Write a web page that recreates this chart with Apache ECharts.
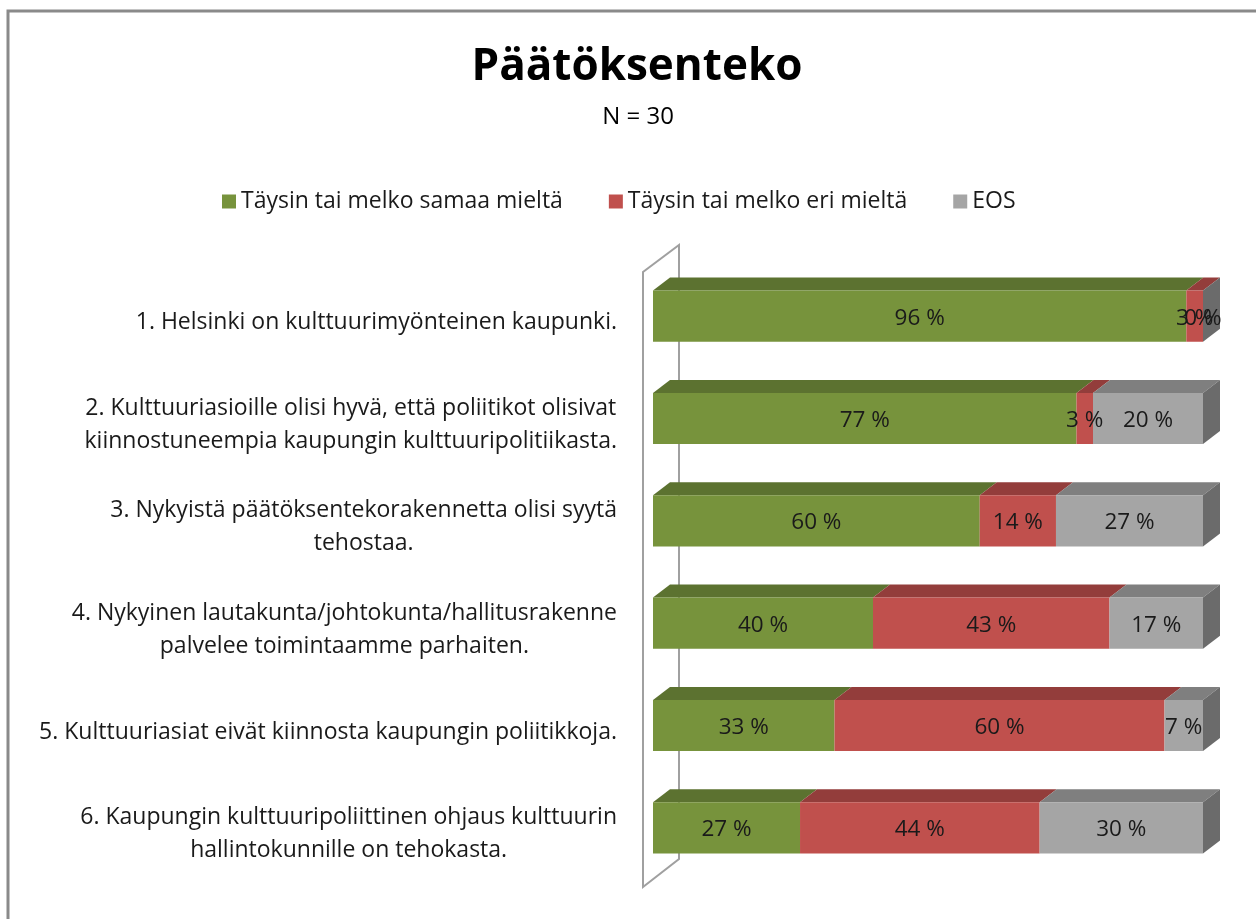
<!DOCTYPE html>
<html>
<head>
<meta charset="utf-8">
<style>
  html, body { margin: 0; padding: 0; background: #fff; }
  #chart { width: 1256px; height: 919px; }
</style>
<script src="https://cdn.jsdelivr.net/npm/echarts@6/dist/echarts.min.js"></script>
</head>
<body>
<div id="chart"></div>
<script>
// statements, top to bottom
const categories = [
  "1. Helsinki on kulttuurimyönteinen kaupunki.",
  "2. Kulttuuriasioille olisi hyvä, että poliitikot olisivat\nkiinnostuneempia kaupungin kulttuuripolitiikasta.",
  "3. Nykyistä päätöksentekorakennetta olisi syytä\ntehostaa.",
  "4. Nykyinen lautakunta/johtokunta/hallitusrakenne\npalvelee toimintaamme parhaiten.",
  "5. Kulttuuriasiat eivät kiinnosta kaupungin poliitikkoja.",
  "6. Kaupungin kulttuuripoliittinen ohjaus kulttuurin\nhallintokunnille on tehokasta."
];
const seriesNames = ["Täysin tai melko samaa mieltä", "Täysin tai melko eri mieltä", "EOS"];
const agree = [96, 77, 60, 40, 33, 27];
const disagree = [3, 3, 14, 43, 60, 44];
const eos = [0, 20, 27, 17, 7, 30];

const FONT = "'Open Sans', Lato, sans-serif";
const colors = [
  { front: "#77933c", top: "#5c7230", side: "#4f6329" },
  { front: "#c0504d", top: "#933d3b", side: "#7e3432" },
  { front: "#a5a5a5", top: "#7f7f7f", side: "#6b6b6b" }
];
const DX = 17, DY = 13;
const gridLeft = 653, gridRight = 53, gridTop = 265, gridHeight = 614;

const values = [agree, disagree, eos];

// 100 % stacked, like Excel: each row is scaled to its own total
function segments(s) {
  return categories.map((c, i) => {
    const total = agree[i] + disagree[i] + eos[i];
    let before = 0;
    for (let k = 0; k < s; k++) before += values[k][i];
    const start = before / total * 100;
    const end = (before + values[s][i]) / total * 100;
    return [start, end, i, values[s][i]];
  });
}

function renderBar(params, api) {
  const s = params.seriesIndex;
  const p0 = api.coord([api.value(0), api.value(2)]);
  const p1 = api.coord([api.value(1), api.value(2)]);
  const h = api.size([0, 1])[1] * 0.5;
  const x0 = p0[0], x1 = p1[0];
  const yTop = p0[1] - h / 2;
  const c = colors[s];
  const children = [
    {
      type: "polygon",
      shape: { points: [[x0, yTop], [x0 + DX, yTop - DY], [x1 + DX, yTop - DY], [x1, yTop]] },
      style: { fill: c.top }
    },
    {
      type: "rect",
      shape: { x: x0, y: yTop, width: x1 - x0, height: h },
      style: { fill: c.front }
    }
  ];
  if (s === 2) {
    children.push({
      type: "polygon",
      shape: { points: [[x1, yTop], [x1 + DX, yTop - DY], [x1 + DX, yTop + h - DY], [x1, yTop + h]] },
      style: { fill: c.side }
    });
  }
  children.push({
    type: "text",
    z2: 50,
    style: {
      text: api.value(3) + " %",
      x: (x0 + x1) / 2,
      y: p0[1] + 2,
      align: "center",
      verticalAlign: "middle",
      font: "22.5px " + FONT,
      fill: "#1a1a1a"
    }
  });
  return { type: "group", children: children };
}

const chart = echarts.init(document.getElementById("chart"));

chart.setOption({
  animation: false,
  backgroundColor: "#fff",
  textStyle: { fontFamily: FONT },
  color: colors.map(c => c.front),
  graphic: [
    {
      type: "polyline",
      silent: true,
      shape: { points: [[8, 919], [8, 11], [1256, 11]] },
      style: { stroke: "#8a8a8a", lineWidth: 3, fill: null }
    },
    {
      type: "text",
      style: {
        text: "Päätöksenteko", x: 637, y: 67, align: "center", verticalAlign: "middle",
        font: "bold 44px " + FONT, fill: "#000"
      }
    },
    {
      type: "text",
      style: {
        text: "N = 30", x: 638, y: 117, align: "center", verticalAlign: "middle",
        font: "24px " + FONT, fill: "#000"
      }
    },
    {
      type: "polygon",
      silent: true,
      z: -1,
      shape: {
        points: [
          [gridLeft - 10, gridTop + gridHeight + 8],
          [gridLeft - 10, gridTop + 7],
          [gridLeft + 26, gridTop - 20],
          [gridLeft + 26, gridTop + gridHeight - 20]
        ]
      },
      style: { stroke: "#a0a0a0", lineWidth: 2, fill: "#fff" }
    }
  ],
  legend: {
    data: seriesNames,
    left: 217,
    top: 185,
    icon: "rect",
    itemWidth: 14,
    itemHeight: 14,
    itemGap: 46,
    textStyle: { fontSize: 23, color: "#1a1a1a", fontFamily: FONT }
  },
  grid: { left: gridLeft, right: gridRight, top: gridTop, height: gridHeight },
  xAxis: {
    type: "value",
    min: 0,
    max: 100,
    show: false
  },
  yAxis: {
    type: "category",
    inverse: true,
    data: categories,
    axisLine: { show: false },
    axisTick: { show: false },
    splitLine: { show: false },
    axisLabel: {
      margin: 36,
      align: "right",
      padding: [13, 0, 0, 0],
      formatter: v => v.split("\n").map(l => "{c|" + l + "}").join("\n"),
      rich: {
        c: { align: "center", fontSize: 23, lineHeight: 33, color: "#1a1a1a", fontFamily: FONT }
      }
    }
  },
  series: seriesNames.map((name, s) => ({
    name: name,
    type: "custom",
    renderItem: renderBar,
    encode: { x: [0, 1], y: 2 },
    data: segments(s)
  }))
});
</script>
</body>
</html>
